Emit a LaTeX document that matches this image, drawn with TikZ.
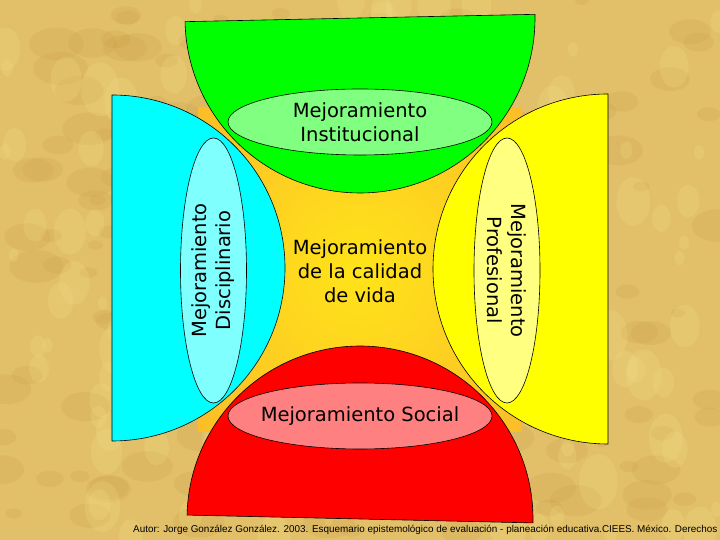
\documentclass[tikz,border=0pt]{standalone}
\usepackage{fontspec}
\setmainfont{DejaVu Sans}
\newfontfamily\footfont{Liberation Sans}
\usetikzlibrary{shapes.geometric}

\definecolor{paper}{RGB}{225,192,105}
\definecolor{spot}{RGB}{196,145,60}
\definecolor{glow}{RGB}{246,228,140}
\definecolor{pgreen}{RGB}{0,255,0}
\definecolor{pcyan}{RGB}{0,255,255}
\definecolor{pyellow}{RGB}{255,255,0}
\definecolor{pred}{RGB}{255,0,0}
\definecolor{ltgreen}{RGB}{128,255,128}
\definecolor{ltcyan}{RGB}{128,255,255}
\definecolor{ltyellow}{RGB}{255,255,128}
\definecolor{ltred}{RGB}{255,128,128}
\definecolor{core}{RGB}{255,228,25}
\definecolor{rim}{RGB}{248,150,55}

\tikzset{
  half/.style={draw=black, line width=0.6bp},
  oval/.style={ellipse, draw=black, line width=0.6bp, inner sep=0pt, align=center,
    font=\fontsize{19.5bp}{24bp}\selectfont},
}

\begin{document}
\begin{tikzpicture}[x=1bp,y=1bp]
		%%%%% START %%%%%
		
		\fill[paper] (0,0) rectangle (720,540);
		\useasboundingbox (0,0) rectangle (720,540);
		\clip (0,0) rectangle (720,540);
		
		% mottled paper
		\pgfmathsetseed{7}
		\foreach \i in {1,...,160}{
			\pgfmathsetmacro{\px}{720*rnd}
			\pgfmathsetmacro{\py}{540*rnd}
			\pgfmathsetmacro{\pr}{6+22*rnd}
			\fill[spot, opacity=0.15] (\px,\py) ellipse ({\pr} and {0.6*\pr});
		}
		\foreach \i in {1,...,140}{
			\pgfmathsetmacro{\px}{720*rnd}
			\pgfmathsetmacro{\py}{540*rnd}
			\pgfmathsetmacro{\pr}{6+22*rnd}
			\fill[glow, opacity=0.2] (\px,\py) ellipse ({0.7*\pr} and {\pr});
		}
		
		\begin{scope}
			\clip (198,108) rectangle (522,432);
			\shade[inner color=core, outer color=rim] (-100,-190) rectangle (820,730);
		\end{scope}
		
		\draw[half, fill=pgreen, rotate around={1.2:(360,522)}] (185,522) arc (180:360:175) -- cycle;
		\draw[half, fill=pcyan] (112,445) arc (90:-90:173) -- cycle;
		\draw[half, fill=pyellow] (608,446) arc (90:270:175) -- cycle;
		\draw[half, fill=pred, rotate around={-1.3:(360,21)}] (187,21) arc (180:0:173) -- cycle;
		
		\node[oval, fill=ltgreen, minimum width=264bp, minimum height=66bp] (inst) at (360,418) {Mejoramiento\\Institucional};
		\node[oval, fill=ltcyan, rotate=90, minimum width=265bp, minimum height=66bp] (disc) at (213.5,269.5) {Mejoramiento\\Disciplinario};
		\node[oval, fill=ltyellow, rotate=-90, minimum width=265bp, minimum height=66bp] (prof) at (507,269.5) {Mejoramiento\\Profesional};
		\node[oval, fill=ltred, inner xsep=-7bp, minimum width=264bp, minimum height=66bp] (soc) at (360,124) {Mejoramiento Social};
		
		\node[align=center, font=\fontsize{19.5bp}{24bp}\selectfont] (vida) at (360,269) {Mejoramiento\\de la calidad\\de vida};
		
		\node[anchor=west, inner sep=0pt, font=\footfont\fontsize{9.9bp}{10bp}\selectfont] (autor) at (133,10) {Autor: Jorge González González. 2003. Esquemario epistemológico de evaluación - planeación educativa.CIEES. México. Derechos};
		
		%%%%% END %%%%%
\end{tikzpicture}
\end{document}
